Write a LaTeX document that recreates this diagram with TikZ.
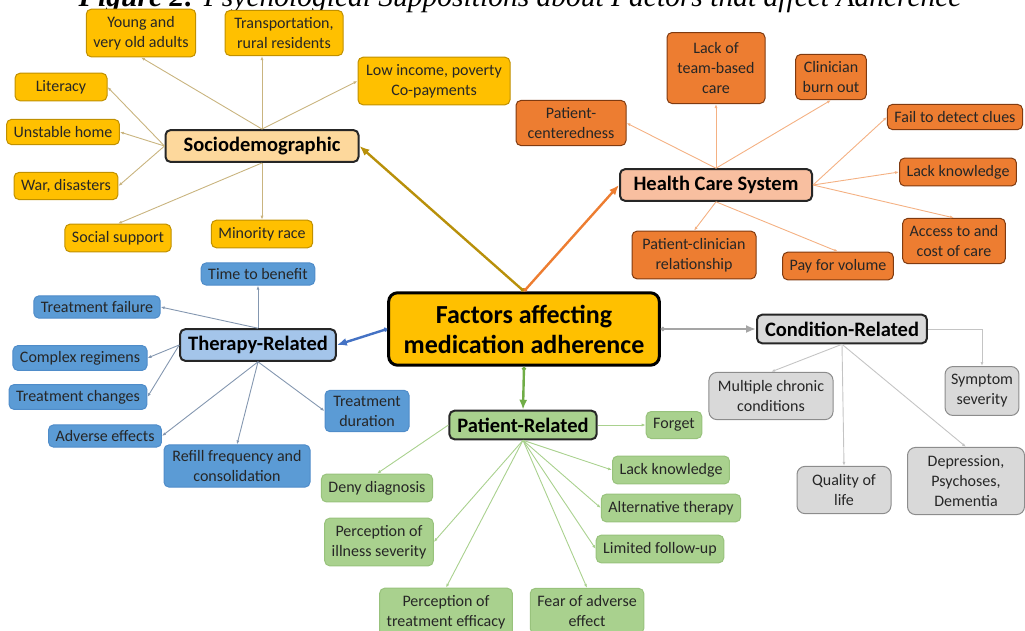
\documentclass[tikz,border=0pt]{standalone}
\usepackage{fontspec}
\setmainfont{Carlito}
\newfontfamily\titlefont{Liberation Serif}
\usetikzlibrary{arrows.meta}
\definecolor{goldfill}{HTML}{FFC000}
\definecolor{golddraw}{HTML}{C09000}
\definecolor{sociofill}{HTML}{FDD89C}
\definecolor{socioline}{HTML}{C9B47F}
\definecolor{socioarrow}{HTML}{B8900A}
\definecolor{orangefill}{HTML}{ED7D31}
\definecolor{orangedraw}{HTML}{7F3A10}
\definecolor{hcsfill}{HTML}{F8BFA0}
\definecolor{hcsline}{HTML}{F4B183}
\definecolor{bluefill}{HTML}{5B9BD5}
\definecolor{bluedraw}{HTML}{4F8CC9}
\definecolor{therapyfill}{HTML}{A4C5EA}
\definecolor{therapyline}{HTML}{8497B0}
\definecolor{bluearrow}{HTML}{4472C4}
\definecolor{greenfill}{HTML}{A9D18E}
\definecolor{greendraw}{HTML}{98C27C}
\definecolor{greenarrow}{HTML}{70AD47}
\definecolor{grayfill}{HTML}{D9D9D9}
\definecolor{graydraw}{HTML}{8C8C8C}
\definecolor{grayline}{HTML}{C4C4C4}
\definecolor{grayarrow}{HTML}{A5A5A5}
\tikzset{
  leaf/.style={rounded corners=5pt, align=center, inner xsep=7pt, inner ysep=7pt,
    font=\fontsize{16}{20}\selectfont, text=black!85, line width=1pt},
  goldleaf/.style={leaf, fill=goldfill, draw=golddraw},
  orangeleaf/.style={leaf, fill=orangefill, draw=orangedraw},
  blueleaf/.style={leaf, fill=bluefill, draw=bluedraw, inner ysep=5.5pt},
  greenleaf/.style={leaf, fill=greenfill, draw=greendraw},
  grayleaf/.style={leaf, fill=grayfill, draw=graydraw, rounded corners=8pt, inner xsep=9pt, inner ysep=8pt},
  hub/.style={rounded corners=5pt, draw=black!85, line width=2pt, inner xsep=8pt, inner ysep=7pt,
    font=\fontsize{20.5}{24}\selectfont\bfseries},
  twig/.style={line width=0.9pt, -{Latex[length=4pt,width=3pt]}},
  trunk/.style={line width=2.4pt, {Circle[length=4pt]}-{Latex[length=10pt,width=8pt]}}
}
\begin{document}
\begin{tikzpicture}[x=1pt,y=-1pt]
    \useasboundingbox (0,0) rectangle (1025,630);
    \node[anchor=base west, font=\titlefont\fontsize{29.5}{32}\selectfont] (title) at (75,6)
        {\textbf{\textit{Figure 2:}} \textit{Psychological Suppositions about Factors that affect Adherence}};

    \node[rounded corners=9pt, fill=goldfill, draw=black, line width=3pt, align=center,
        inner xsep=15pt, inner ysep=12pt, font=\fontsize{26}{30}\selectfont\bfseries] (core) at (524,329)
        {Factors affecting\\medication adherence};

    \node[hub, fill=sociofill, minimum width=193pt] (socio) at (262,146) {Sociodemographic};
    \node[goldleaf] (young) at (141,33) {Young and\\very old adults};
    \node[goldleaf, minimum width=118pt] (transp) at (284,33) {Transportation,\\rural residents};
    \node[goldleaf, minimum width=152pt] (income) at (434,81) {Low income, poverty\\Co-payments};
    \node[goldleaf, minimum width=92pt] (literacy) at (61,87) {Literacy};
    \node[goldleaf] (unstable) at (63,132) {Unstable home};
    \node[goldleaf] (war) at (66,186) {War, disasters};
    \node[goldleaf] (social) at (118,238) {Social support};
    \node[goldleaf] (minority) at (262,234) {Minority race};

    \node[hub, fill=hcsfill, minimum width=192pt] (hcs) at (716,185) {Health Care System};
    \node[orangeleaf, minimum width=110pt] (pcent) at (571,123) {Patient-\\centeredness};
    \node[orangeleaf, minimum width=98pt, minimum height=71pt] (team) at (716,68) {Lack of\\team-based\\care};
    \node[orangeleaf] (clin) at (831,77) {Clinician\\burn out};
    \node[orangeleaf] (detect) at (955,117) {Fail to detect clues};
    \node[orangeleaf] (hknow) at (958,172) {Lack knowledge};
    \node[orangeleaf] (access) at (954,241) {Access to and\\cost of care};
    \node[orangeleaf] (pay) at (838,266) {Pay for volume};
    \node[orangeleaf, minimum width=124pt] (pcr) at (694,255) {Patient-clinician\\relationship};

    \node[hub, fill=therapyfill] (therapy) at (258,345) {Therapy-Related};
    \node[blueleaf] (benefit) at (258,274) {Time to benefit};
    \node[blueleaf] (tfail) at (97,307) {Treatment failure};
    \node[blueleaf] (complex) at (80,358) {Complex regimens};
    \node[blueleaf] (changes) at (78,397) {Treatment changes};
    \node[blueleaf] (adverse) at (105,436) {Adverse effects};
    \node[blueleaf, minimum width=146pt] (refill) at (237,466) {Refill frequency and\\consolidation};
    \node[blueleaf, minimum width=84pt] (duration) at (367,411) {Treatment\\duration};

    \node[hub, fill=greenfill] (patient) at (523,425) {Patient-Related};
    \node[greenleaf] (forget) at (674,425) {Forget};
    \node[greenleaf] (pknow) at (671,470) {Lack knowledge};
    \node[greenleaf] (alt) at (671,508) {Alternative therapy};
    \node[greenleaf] (limited) at (660,549) {Limited follow-up};
    \node[greenleaf] (fear) at (587,611) {Fear of adverse\\effect};
    \node[greenleaf] (efficacy) at (446,612) {Perception of\\treatment efficacy};
    \node[greenleaf] (illness) at (379,542) {Perception of\\illness severity};
    \node[greenleaf] (deny) at (377,488) {Deny diagnosis};

    \node[hub, fill=grayfill] (cond) at (842,329) {Condition-Related};
    \node[grayleaf] (multiple) at (771,396) {Multiple chronic\\conditions};
    \node[grayleaf, inner xsep=6pt] (symptom) at (982,391) {Symptom\\severity};
    \node[grayleaf, minimum width=94pt] (quality) at (844,490) {Quality of\\life};
    \node[grayleaf, minimum width=117pt] (depress) at (966,481) {Depression,\\Psychoses,\\Dementia};

    \foreach \from/\to in {socio.north/young.south, socio.north/income.west, socio.west/literacy.east,
            socio.west/unstable.east, socio.west/war.east, socio.south/social.north, socio.south/minority.north}
        \draw[twig, socioline] (\from) -- (\to);
    \draw[twig, socioline] (socio.north) -- (socio.north |- transp.south);

    \foreach \from/\to in {hcs.north/pcent.east, hcs.north/team.south, hcs.north/clin.south, hcs.east/detect.west,
            hcs.east/hknow.west, hcs.east/access.north, hcs.south/pcr.north, hcs.south/pay.north}
        \draw[twig, hcsline] (\from) -- (\to);

    \foreach \from/\to in {therapy.north/benefit.south, therapy.north/tfail.east, therapy.west/complex.east,
            therapy.west/changes.east, therapy.south/adverse.east, therapy.south/refill.north, therapy.south/duration.west}
        \draw[twig, therapyline] (\from) -- (\to);

    \foreach \from/\to in {patient.east/forget.west, patient.south/pknow.west, patient.south/alt.west,
            patient.south/limited.west, patient.south/fear.north, patient.south/efficacy.north,
            patient.south/illness.east, patient.west/deny.north}
        \draw[twig, greenfill] (\from) -- (\to);

    \foreach \from/\to in {cond.south/multiple.north, cond.south/quality.north, cond.south/depress.north}
        \draw[twig, grayline] (\from) -- (\to);
    \draw[twig, grayline] (cond.east) -| (symptom.north);

    \draw[trunk, socioarrow] (core.north) -- (socio.east);
    \draw[trunk, orangefill] (core.north) -- (hcs.west);
    \draw[trunk, bluearrow] (core.west) -- (therapy.east);
    \draw[trunk, greenarrow] (core.south) -- (patient.north);
    \draw[trunk, grayarrow] (core.east) -- (cond.west);
\end{tikzpicture}
\end{document}
